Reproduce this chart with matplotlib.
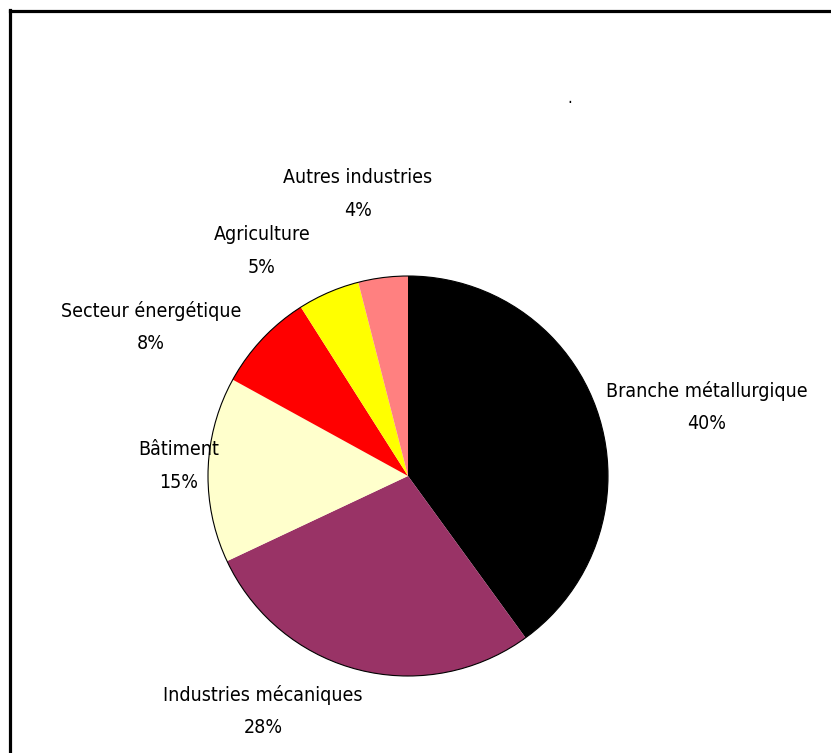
import matplotlib.pyplot as plt
from matplotlib.lines import Line2D
from matplotlib.patches import Circle

# Répartition par secteur (%)
secteurs = ["Branche métallurgique", "Industries mécaniques", "Bâtiment",
            "Secteur énergétique", "Agriculture", "Autres industries"]
parts = [40, 28, 15, 8, 5, 4]
couleurs = ["#000000", "#993366", "#FFFFCC", "#FF0000", "#FFFF00", "#FF8080"]

W, H = 831, 753

fig = plt.figure(figsize=(W / 100, H / 100), dpi=100)
ax = fig.add_axes([0, 0, 1, 1])

cx, cy, r = 408, H - 476, 200
ax.pie(parts, colors=couleurs, startangle=90, counterclock=False,
       center=(cx, cy), radius=r, frame=True, wedgeprops=dict(linewidth=0))
ax.add_patch(Circle((cx, cy), r, fill=False, edgecolor="black", linewidth=0.8))
ax.set_xlim(0, W)
ax.set_ylim(0, H)
ax.set_aspect("equal")
ax.axis("off")

# position des étiquettes (centre du bloc de texte, en pixels)
pos_labels = [(707, 407), (263, 711), (179, 466), (151, 327), (262, 251), (358, 194)]
for nom, p, (x, y) in zip(secteurs, parts, pos_labels):
    ax.text(x, H - y, f"{nom}\n{p}%", ha="center", va="center",
            fontsize=14, family="DejaVu Sans", fontstretch="condensed",
            linespacing=1.9)

ax.text(570, H - 98, ".", ha="center", va="center", fontsize=12,
        family="DejaVu Sans", fontstretch="condensed")

# cadre du graphique
fig.add_artist(Line2D([10 / W, 10 / W], [0, 1 - 10 / H], transform=fig.transFigure,
                      color="black", linewidth=2.3, solid_capstyle="projecting"))
fig.add_artist(Line2D([10 / W, 1], [1 - 10.5 / H, 1 - 10.5 / H], transform=fig.transFigure,
                      color="black", linewidth=2.3, solid_capstyle="projecting"))

fig.savefig("out.png", dpi=100)
